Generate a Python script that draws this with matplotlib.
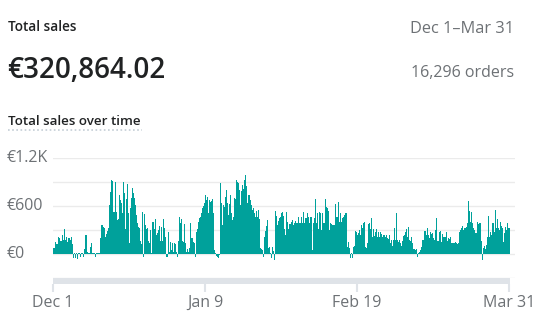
import numpy as np
import matplotlib
matplotlib.use('Agg')
import matplotlib.pyplot as plt
import matplotlib.transforms as mtransforms
from matplotlib.lines import Line2D

# sales per period (EUR) left to right
dec1_dec20 = [70, 70, 150, 125, 125, 210, 200, 165, 160, 235, 170, 310, 170, 210, 150, 200,
              200, 170, 210, 125, -50, 15, -50, 15, -60, 15, 15, -40, 15, 15, -40, 60,
              240, 240, 30, 10, 15, 90, 140, 15, 15, 15, -40, 15, 15, 15, 15, 200,
              360, 360, 335, 320, 210, 245, 290, 320, 615, 780, 925, 910, 530, 520, 905, 530,
              425, 435, 740, 675, 635, 510, 900, 760, 310, 685, 875, 515]
dec20_jan9 = [142, 571, 696, 821, 759, 696, 613, 488, 384, 342, 321, 163, 125, 525, -40, 500,
              363, 309, 321, 167, 133, 300, 17, 396, 396, 313, 442, 238, 259, 300, 350, 167,
              334, 163, 434, 321, 217, -40, -40, 280, 29, 154, 50, 142, 29, 133, 125, 29,
              -40, 167, 467, 384, 434, 167, 154, 371, 133, 29, 67, 25, 71, 384, 196, 196,
              154, 142, -40, 280, 313, 404, 446, 467, 509, 571, 600, 634]
jan9_jan29 = [738, 676, 717, 509, 676, 655, 667, 684, 509, 50, 17, -25, -35, -50, -15, 884,
              634, 363, 613, 584, 709, 800, 642, 488, 621, 738, 509, 425, 459, 696, 684, 926,
              905, 892, 800, 609, 792, 863, 809, 926, 988, 850, 634, 738, 734, 676, 613, 550,
              571, 509, 467, 542, 459, 550, 434, 71, 58, 50, -40, 217, 292, 350, 425, 71,
              92, 17, -55, 92, 38, -70, 534, 480, 363, 417, 446, 459]
jan29_feb19 = [509, 521, 475, 313, 238, 521, 404, 317, 371, 371, 396, 425, 363, 384, 417, 384,
               384, 459, 384, 384, 467, 384, 530, 384, 446, 455, 509, 467, 392, 459, 467, 50,
               384, 446, 684, 384, 517, 309, 521, 517, 300, 509, 384, 392, 684, 584, 571, 542,
               300, 392, 375, 363, 363, 363, 626, 467, 459, 655, 404, 509, 404, 446, 467, 488,
               517, 509, 83, 154, 71, -45, 17, -45, 92, 100, 292, 279]
feb19_mar11 = [238, 267, 300, 238, 363, 321, 384, 396, 92, 71, 133, 375, 384, 309, 446, 209,
               309, 225, 279, 309, 217, 279, 217, 279, 250, 217, 238, 238, 217, 238, 196, 183,
               238, 133, 175, 100, 175, 321, 175, 509, 175, 154, 175, 133, 100, 167, 225, 238,
               279, 309, 209, 342, 175, 167, 217, 133, 67, 58, 50, 58, -40, 8, 29, 50,
               92, 175, 175, 292, 292, 238, 321, 234, 196, 279, 250, 259]
mar11_mar31 = [196, 175, 300, 455, 167, 167, 279, 292, 154, 246, 217, 217, 217, 279, 163, 196,
               183, 217, 142, 142, 142, 133, 154, 142, 125, 142, 279, 300, 321, 350, 300, 321,
               321, 342, 392, 667, 542, 404, 530, 384, 321, 300, 259, 267, 404, 375, 384, 392,
               167, -70, 71, 100, 58, 113, 217, 475, 217, 279, 238, 392, 384, 279, 550, 321,
               434, 321, 300, 404, 350, 321, 154, 259, 342, 300, 392, 321]

date_labels = ['Dec 1', 'Jan 9', 'Feb 19', 'Mar 31']
y_ticks = [0, 600, 1200]
y_labels = ['€0', '€600', '€1.2K']

TEAL = '#00a19b'
DARK = '#202223'
GRAY = '#6d7175'
W, H = 535, 312

plt.rcParams['font.family'] = ['Open Sans', 'DejaVu Sans']

sales = np.array(dec1_dec20 + dec20_jan9 + jan9_jan29 + jan29_feb19 + feb19_mar11 + mar11_mar31)
n = len(sales)


def fx(px):
    return px / W


def fy(py):
    return 1 - py / H


fig = plt.figure(figsize=(W / 100, H / 100), dpi=100)

# main bar area, pixel box
left, right_bars, right_grid = 52.5, 509.5, 515
top, bottom = 158, 278
step = (right_bars - left) / n
ax = fig.add_axes([fx(left), fy(bottom), (right_grid - left) / W, (bottom - top) / H])
ax.bar(np.arange(n), sales, width=1.0, color=TEAL, linewidth=0)
ax.set_xlim(-0.5, -0.5 + (right_grid - left) / step)
ax.set_ylim(-300, 1200)
ax.set_yticks(np.arange(-300, 1201, 300))
ax.grid(axis='y', color='#ebebeb', lw=1)
ax.set_axisbelow(True)
ax.tick_params(left=False, bottom=False, labelleft=False, labelbottom=False)
for s in ax.spines.values():
    s.set_visible(False)

blend = mtransforms.blended_transform_factory(fig.transFigure, ax.transData)
for v, lab in zip(y_ticks, y_labels):
    ax.text(fx(7), v, lab, transform=blend, ha='left', va='center', fontsize=11.5, color=GRAY)

# range strip under the chart
ax2 = fig.add_axes([fx(left), fy(284), (right_bars - left) / W, 6 / H])
ax2.set_facecolor('#dfe3e8')
ax2.set_xlim(-0.5, n - 0.5)
tick_idx = [0, round((n - 1) / 3), round(2 * (n - 1) / 3), n - 1]
ax2.set_xticks(tick_idx)
ax2.set_xticklabels(date_labels)
ax2.set_yticks([])
ax2.tick_params(axis='x', length=6, width=1.5, color='#dfe3e8', labelsize=11.5,
                labelcolor=GRAY, pad=2)
for s in ax2.spines.values():
    s.set_visible(False)

# header
fig.text(fx(8), fy(31), 'Total sales', fontsize=9.8, weight='semibold', color=DARK, va='baseline')
fig.text(fx(7), fy(78), '€320,864.02', fontsize=20, weight='semibold', color=DARK, va='baseline')
fig.text(fx(514), fy(33), 'Dec 1–Mar 31', fontsize=11.8, color=GRAY, ha='right', va='baseline')
fig.text(fx(514), fy(77), '16,296 orders', fontsize=11.5, color=GRAY, ha='right', va='baseline')
fig.text(fx(8), fy(125), 'Total sales over time', fontsize=9.6, weight='semibold', color=DARK,
         va='baseline')
fig.add_artist(Line2D([fx(8), fx(142)], [fy(129.5)] * 2, transform=fig.transFigure,
                      color='#c4cdd5', lw=1.2, linestyle=(0, (1, 1.5))))

fig.savefig('out.png', dpi=100)
